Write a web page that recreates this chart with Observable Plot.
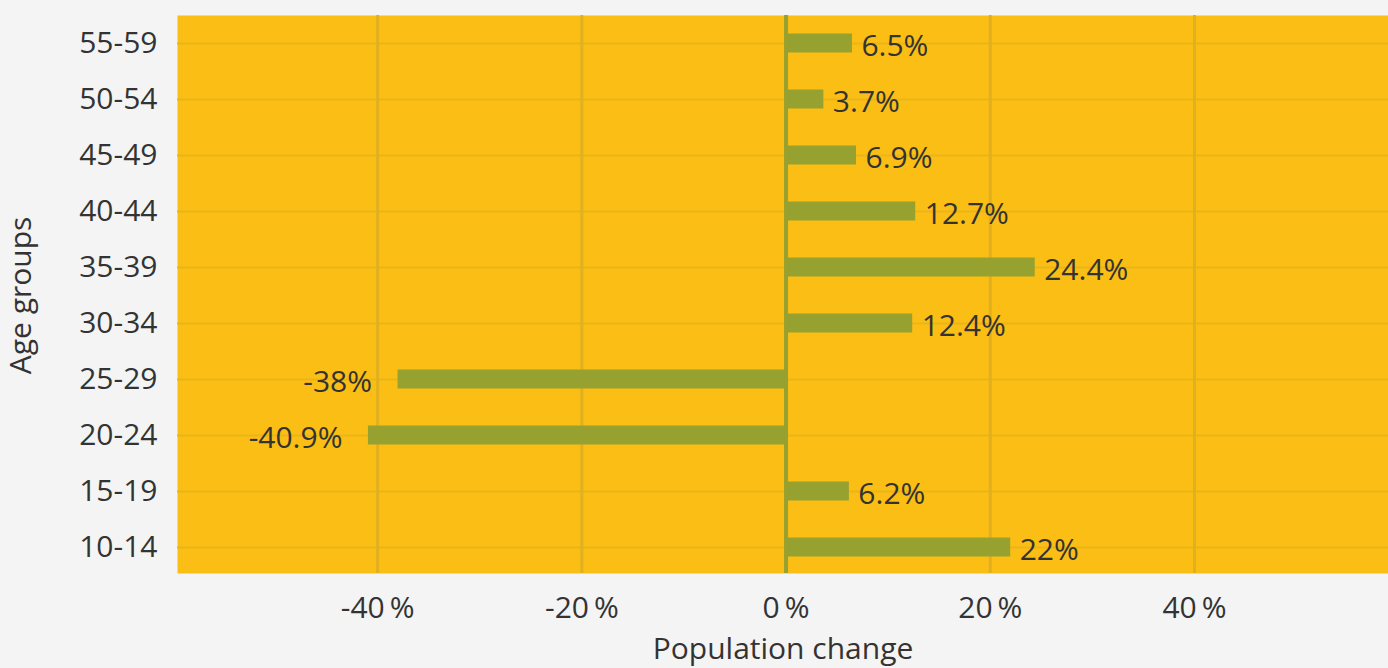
<!DOCTYPE html>
<html>
<head>
<meta charset="utf-8">
<script src="https://cdn.jsdelivr.net/npm/d3@7"></script>
<script src="https://cdn.jsdelivr.net/npm/@observablehq/plot@0.6"></script>
<style>
  html, body { margin: 0; padding: 0; background: #f3f4f3; overflow: hidden; }
  #chart svg { display: block; }
</style>
</head>
<body>
<div id="chart"></div>
<script>
const ageGroups = ["55-59", "50-54", "45-49", "40-44", "35-39", "30-34", "25-29", "20-24", "15-19", "10-14"];
const changes = [6.5, 3.7, 6.9, 12.7, 24.4, 12.4, -38, -40.9, 6.2, 22];
const xTicks = [-40, -20, 0, 20, 40];
const gridTicks = [-40, -20, 20, 40];

const data = ageGroups.map((g, i) => ({group: g, value: changes[i]}));
const pos = data.filter(d => d.value >= 0);
const neg = data.filter(d => d.value < 0);

const barColor = "#97a12f";
const textColor = "#333333";
const fs = 30;

const chart = Plot.plot({
  width: 1388,
  height: 668,
  marginTop: 15,
  marginBottom: 93,
  marginLeft: 177,
  marginRight: 0,
  style: {background: "#f3f4f3", fontFamily: "'Open Sans', 'Noto Sans', sans-serif", fontSize: `${fs}px`, color: textColor},
  x: {domain: [-59.6, 59.0]},
  y: {domain: ageGroups, padding: 0},
  marks: [
    Plot.frame({fill: "#fbbe14", stroke: null, insetBottom: 2}),
    Plot.ruleY(ageGroups, {y: d => d, stroke: "#ebb419", strokeWidth: 2}),
    Plot.ruleX(gridTicks, {stroke: "#e0b020", strokeWidth: 3, insetBottom: 2}),
    Plot.barX(data, {x: "value", y: "group", fill: barColor, insetTop: 18.5, insetBottom: 18.5}),
    Plot.ruleX([0], {stroke: barColor, strokeWidth: 4, insetBottom: 2}),
    Plot.text(pos, {x: "value", y: "group", text: d => `${d.value}%`, textAnchor: "start", dx: 9, dy: 3, fill: textColor, fontSize: fs}),
    Plot.text(neg, {x: "value", y: "group", text: d => `${d.value}%`, textAnchor: "end", dx: -26, dy: 3, fill: textColor, fontSize: fs}),
    Plot.axisX({ticks: xTicks, tickFormat: d => `${d}\u2009%`, tickSize: 0, tickPadding: 21, fontSize: fs, color: textColor,
      label: "Population change", labelAnchor: "center", labelArrow: "none", labelOffset: 83}),
    Plot.axisY({tickSize: 0, tickPadding: 20, fontSize: fs, color: textColor,
      label: "Age groups", labelAnchor: "center", labelArrow: "none", labelOffset: 168})
  ]
});
document.getElementById("chart").appendChild(chart);
</script>
</body>
</html>
